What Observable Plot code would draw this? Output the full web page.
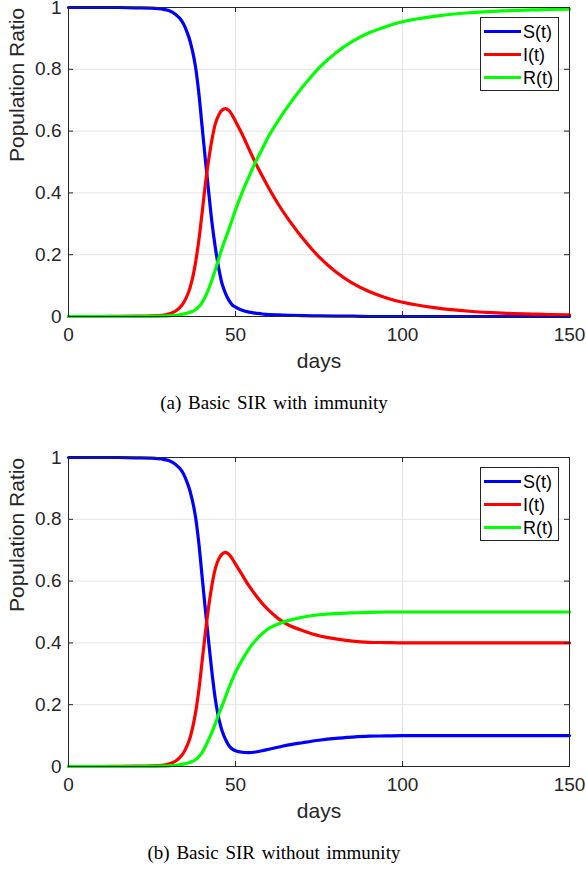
<!DOCTYPE html>
<html><head><meta charset="utf-8">
<script src="https://cdn.jsdelivr.net/npm/d3@7"></script>
<script src="https://cdn.jsdelivr.net/npm/@observablehq/plot@0.6"></script>
<style>
body{margin:0;background:#fff;}
#wrap{position:relative;width:586px;height:872px;overflow:hidden;font-family:"Liberation Sans",Arial,sans-serif;background:#fff;}
.panel{position:absolute;left:0;width:586px;}
.panel svg{display:block;}
.caption{position:absolute;left:0;width:548px;text-align:center;font-family:"Liberation Serif","Times New Roman",serif;font-size:19px;line-height:20px;word-spacing:2px;color:#000;white-space:nowrap;}
.legend{position:absolute;}
</style></head>
<body><div id="wrap"></div>
<script>
const days = [0,5,10,15,20,25,28,30,32,34,36,37,38,39,40,41,42,43,44,45,46,47,48,49,50,52,54,56,58,60,63,66,70,75,80,85,90,95,100,110,120,130,140,150];

// (a) with immunity
const sA = [1,1,1,1,0.999,0.998,0.995,0.99,0.978,0.955,0.905,0.865,0.81,0.725,0.615,0.505,0.40,0.30,0.22,0.155,0.105,0.075,0.053,0.038,0.03,0.02,0.014,0.011,0.008,0.006,0.005,0.004,0.003,0.002,0.001,0.001,0,0,0,0,0,0,0,0];
const iA = [0,0,0,0.0005,0.001,0.002,0.004,0.008,0.017,0.037,0.08,0.118,0.172,0.245,0.335,0.43,0.51,0.575,0.625,0.652,0.668,0.673,0.667,0.652,0.632,0.59,0.543,0.497,0.455,0.415,0.36,0.312,0.255,0.193,0.145,0.108,0.081,0.061,0.046,0.028,0.017,0.011,0.0075,0.005];
const rA = [0,0,0,0,0,0.0005,0.001,0.002,0.004,0.007,0.012,0.016,0.022,0.031,0.045,0.065,0.09,0.12,0.152,0.188,0.222,0.252,0.282,0.313,0.345,0.402,0.452,0.50,0.542,0.585,0.637,0.685,0.742,0.805,0.853,0.89,0.918,0.938,0.954,0.972,0.983,0.989,0.9925,0.995];

// (b) without immunity
const sB = [1,1,1,1,0.999,0.998,0.995,0.99,0.978,0.955,0.905,0.865,0.81,0.725,0.615,0.505,0.40,0.30,0.215,0.155,0.115,0.088,0.068,0.057,0.051,0.046,0.045,0.047,0.051,0.056,0.063,0.07,0.077,0.085,0.091,0.095,0.098,0.099,0.1,0.1,0.1,0.1,0.1,0.1];
const iB = [0,0,0,0.0005,0.001,0.002,0.004,0.008,0.017,0.037,0.08,0.118,0.172,0.245,0.34,0.435,0.52,0.59,0.642,0.672,0.688,0.693,0.687,0.673,0.655,0.62,0.585,0.555,0.528,0.505,0.477,0.457,0.44,0.423,0.413,0.406,0.402,0.401,0.4,0.4,0.4,0.4,0.4,0.4];
const rB = [0,0,0,0,0,0.0005,0.001,0.002,0.004,0.007,0.012,0.016,0.022,0.031,0.045,0.065,0.088,0.112,0.14,0.17,0.197,0.225,0.254,0.28,0.305,0.345,0.38,0.408,0.43,0.447,0.462,0.473,0.483,0.491,0.495,0.497,0.499,0.5,0.5,0.5,0.5,0.5,0.5,0.5];

const seriesNames = ["S(t)","I(t)","R(t)"];
const seriesColors = ["#0000ff","#ff0000","#00ff00"];
const xTicks = [0,50,100,150];
const yTicks = [0,0.2,0.4,0.6,0.8,1];
const xLabel = "days";
const yLabel = "Population Ratio";
const captions = ["(a) Basic SIR with immunity","(b) Basic SIR without immunity"];

const W = 586, H = 375, mL = 68, mR = 17, mT = 7, mB = 59;
const pw = W - mL - mR, ph = H - mT - mB;
const axisColor = "#262626", gridColor = "#e3e3e3", tick = 5;

function makePanel(S, I, R) {
  const data = [];
  [S, I, R].forEach((arr, k) => days.forEach((d, j) => data.push({day: d, value: arr[j], series: seriesNames[k]})));
  return Plot.plot({
    width: W, height: H, marginLeft: mL, marginRight: mR, marginTop: mT, marginBottom: mB,
    style: {fontFamily: '"Liberation Sans", Arial, sans-serif', color: axisColor, background: "#fff", overflow: "visible"},
    x: {domain: [0, 150]},
    y: {domain: [0, 1]},
    color: {domain: seriesNames, range: seriesColors},
    marks: [
      Plot.ruleX(xTicks, {stroke: gridColor}),
      Plot.ruleY(yTicks, {stroke: gridColor}),
      Plot.line(data, {x: "day", y: "value", z: "series", stroke: "series", strokeWidth: 3.2, curve: "catmull-rom"}),
      Plot.ruleX(xTicks, {stroke: axisColor, insetTop: ph - tick}),
      Plot.ruleX(xTicks, {stroke: axisColor, insetBottom: ph - tick}),
      Plot.ruleY(yTicks, {stroke: axisColor, insetRight: pw - tick}),
      Plot.ruleY(yTicks, {stroke: axisColor, insetLeft: pw - tick}),
      Plot.frame({stroke: axisColor}),
      Plot.axisX(xTicks, {tickSize: 0, tickPadding: 11, fontSize: 19, label: null}),
      Plot.axisY(yTicks, {tickSize: 0, tickPadding: 7, fontSize: 19, label: null, tickFormat: d => String(d)}),
      Plot.text([xLabel], {text: d => d, frameAnchor: "bottom", dy: 45, lineAnchor: "middle", fontSize: 21, fill: axisColor}),
      Plot.text([yLabel], {text: d => d, frameAnchor: "left", dx: -51, rotate: -90, lineAnchor: "middle", fontSize: 21, fill: axisColor})
    ]
  });
}

function makeLegend() {
  const ns = "http://www.w3.org/2000/svg";
  const svg = document.createElementNS(ns, "svg");
  svg.setAttribute("width", 80); svg.setAttribute("height", 75);
  const rect = document.createElementNS(ns, "rect");
  rect.setAttribute("x", 0.5); rect.setAttribute("y", 0.5); rect.setAttribute("width", 78); rect.setAttribute("height", 73);
  rect.setAttribute("fill", "#fff"); rect.setAttribute("stroke", axisColor); rect.setAttribute("stroke-width", 1);
  svg.appendChild(rect);
  seriesNames.forEach((name, k) => {
    const y = 14.5 + k * 23;
    const ln = document.createElementNS(ns, "line");
    ln.setAttribute("x1", 4); ln.setAttribute("x2", 41); ln.setAttribute("y1", y); ln.setAttribute("y2", y);
    ln.setAttribute("stroke", seriesColors[k]); ln.setAttribute("stroke-width", 3.2);
    svg.appendChild(ln);
    const t = document.createElementNS(ns, "text");
    t.setAttribute("x", 43); t.setAttribute("y", y); t.setAttribute("dy", "0.35em");
    t.setAttribute("font-size", 18); t.setAttribute("fill", "#000");
    t.setAttribute("font-family", '"Liberation Sans", Arial, sans-serif');
    t.textContent = name;
    svg.appendChild(t);
  });
  return svg;
}

const wrap = document.getElementById("wrap");
[[sA, iA, rA], [sB, iB, rB]].forEach(([S, I, R], p) => {
  const top = p * 450;
  const div = document.createElement("div");
  div.className = "panel"; div.style.top = top + "px";
  div.appendChild(makePanel(S, I, R));
  wrap.appendChild(div);
  const lg = document.createElement("div");
  lg.className = "legend"; lg.style.left = "480px"; lg.style.top = (top + mT + 10) + "px";
  lg.appendChild(makeLegend());
  wrap.appendChild(lg);
  const cap = document.createElement("div");
  cap.className = "caption"; cap.style.top = (top + 393) + "px";
  cap.textContent = captions[p];
  wrap.appendChild(cap);
});
</script>
</body></html>
